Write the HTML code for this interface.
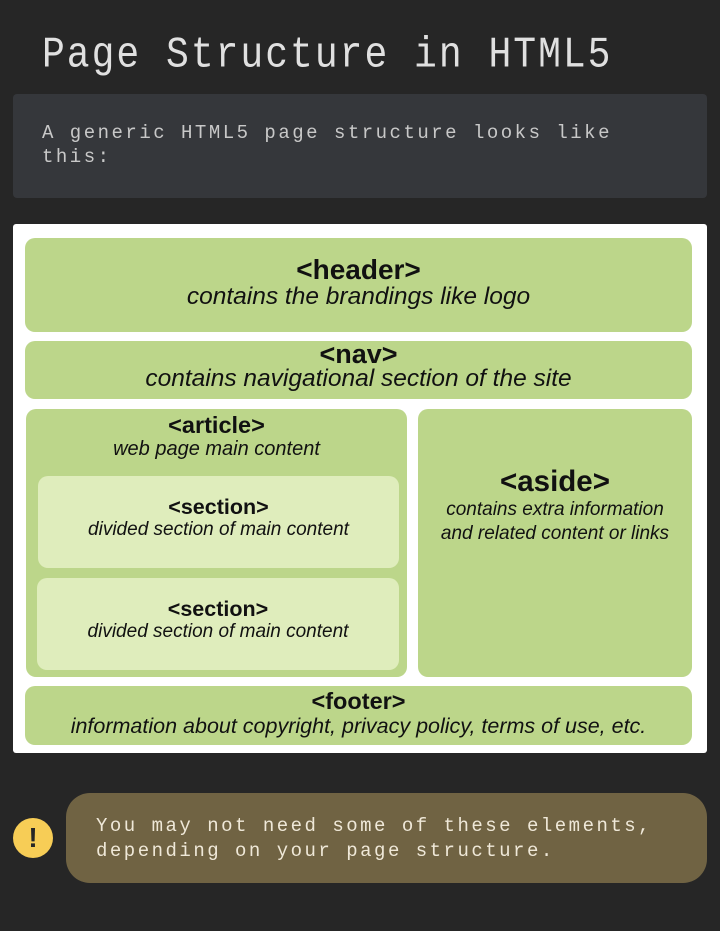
<!DOCTYPE html>
<html><head><style>
body{margin:0;width:720px;height:931px;background:#262626;position:relative;overflow:hidden;font-family:"Liberation Sans",sans-serif}
.mono{font-family:"Liberation Mono",monospace;position:absolute;white-space:pre;color:#d8d8d8}
.b{position:absolute;border-radius:10px;text-align:center;color:#111;white-space:nowrap}
.g{background:#bcd68a}.l{background:#dfedbc}
.t{font-weight:bold}
.i{font-style:italic}
</style></head><body>
<div class="mono" style="left:42px;top:34px;font-size:38px;letter-spacing:2.0px;line-height:44px;color:#e0e0e0;transform:scaleY(1.15);transform-origin:0 50%">Page Structure in HTML5</div>
<div style="position:absolute;left:13px;top:94px;width:694px;height:104px;background:#35373b;border-radius:4px"></div>
<div class="mono" style="left:42px;top:121px;font-size:19px;letter-spacing:2.5px;line-height:24px;color:#c8c8c8">A generic HTML5 page structure looks like
this:</div>
<div style="position:absolute;left:13px;top:224px;width:694px;height:529px;background:#fff;border-radius:3px"></div>
<div class="b g" style="left:25px;top:238px;width:667px;height:94px"><div class="t" style="font-size:28px;margin-top:17px;line-height:30px">&lt;header&gt;</div><div class="i" style="font-size:24.5px;line-height:24px">contains the brandings like logo</div></div>
<div class="b g" style="left:25px;top:341px;width:667px;height:58px"><div class="t" style="font-size:27px;line-height:26px;margin-top:0px">&lt;nav&gt;</div><div class="i" style="font-size:24.5px;line-height:24px">contains navigational section of the site</div></div>
<div class="b g" style="left:26px;top:409px;width:381px;height:268px"><div class="t" style="font-size:23.5px;line-height:26px;margin-top:3px">&lt;article&gt;</div><div class="i" style="font-size:20px;line-height:22px">web page main content</div></div>
<div class="b l" style="left:38px;top:476px;width:361px;height:92px"><div class="t" style="font-size:21.5px;line-height:24px;margin-top:19px">&lt;section&gt;</div><div class="i" style="font-size:19px;line-height:22px">divided section of main content</div></div>
<div class="b l" style="left:37px;top:578px;width:362px;height:92px"><div class="t" style="font-size:21.5px;line-height:24px;margin-top:19px">&lt;section&gt;</div><div class="i" style="font-size:19px;line-height:22px">divided section of main content</div></div>
<div class="b g" style="left:418px;top:409px;width:274px;height:268px"><div class="t" style="font-size:29.5px;line-height:32px;margin-top:57px">&lt;aside&gt;</div><div class="i" style="font-size:19px;line-height:24px">contains extra information<br>and related content or links</div></div>
<div class="b g" style="left:25px;top:686px;width:667px;height:59px"><div class="t" style="font-size:23.5px;line-height:26px;margin-top:2px">&lt;footer&gt;</div><div class="i" style="font-size:21.5px;line-height:24px">information about copyright, privacy policy, terms of use, etc.</div></div>
<div style="position:absolute;left:66px;top:793px;width:641px;height:90px;background:#706343;border-radius:24px"></div>
<div style="position:absolute;left:13px;top:818px;width:40px;height:40px;border-radius:50%;background:#f7cd56;color:#262626;font-weight:bold;font-size:28px;line-height:40px;text-align:center">!</div>
<div class="mono" style="left:96px;top:814px;font-size:19px;letter-spacing:2.5px;line-height:25px;color:#efe8d8">You may not need some of these elements,
depending on your page structure.</div>
</body></html>
